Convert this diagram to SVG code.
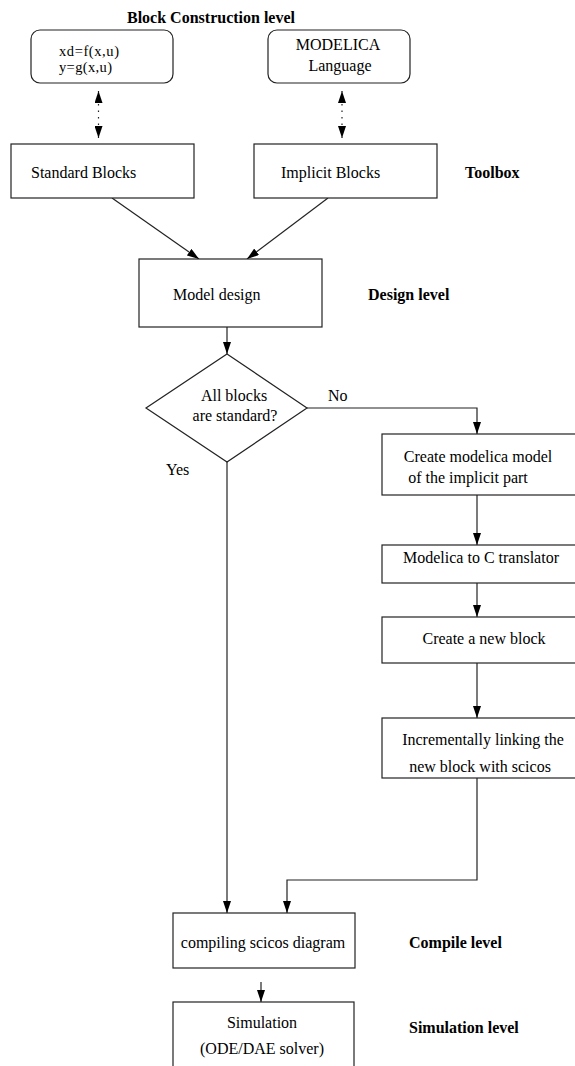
<svg xmlns="http://www.w3.org/2000/svg" width="575" height="1066" viewBox="0 0 575 1066">
<defs>
<marker id="ah" markerUnits="userSpaceOnUse" markerWidth="12" markerHeight="8" viewBox="0 0 12 8" refX="12" refY="4" orient="auto-start-reverse">
<path d="M0,0 L12,4 L0,8 Z" fill="#000"/>
</marker>
</defs>
<style>
text{font-family:"Liberation Serif","Times New Roman",serif;font-size:16px;fill:#000}
.b{font-weight:bold}
.m{text-anchor:middle}
.s{font-size:14.5px}
.box{fill:#fff;stroke:#222;stroke-width:1.2}
.c{fill:none;stroke:#222;stroke-width:1.2}
.d{fill:none;stroke:#222;stroke-width:1.2;stroke-dasharray:1.5 5}
</style>
<rect width="575" height="1066" fill="#fff"/>
<text class="b" x="127" y="23">Block Construction level</text>
<text class="b" x="465" y="178">Toolbox</text>
<text class="b" x="368" y="300">Design level</text>
<text class="b" x="409" y="948">Compile level</text>
<text class="b" x="409" y="1033">Simulation level</text>
<g id="connectors">
<line class="d" x1="98.5" y1="91" x2="98.5" y2="138" marker-start="url(#ah)" marker-end="url(#ah)"/>
<line class="d" x1="342" y1="91" x2="342" y2="138" marker-start="url(#ah)" marker-end="url(#ah)"/>
<line class="c" x1="112" y1="198" x2="199" y2="259" marker-end="url(#ah)"/>
<line class="c" x1="328" y1="198" x2="247" y2="259" marker-end="url(#ah)"/>
<line class="c" x1="227" y1="327" x2="227" y2="354" marker-end="url(#ah)"/>
<polyline class="c" points="307,408 477,408 477,434" marker-end="url(#ah)"/>
<line class="c" x1="477" y1="495" x2="477" y2="545" marker-end="url(#ah)"/>
<line class="c" x1="477" y1="583" x2="477" y2="617" marker-end="url(#ah)"/>
<line class="c" x1="477" y1="663" x2="477" y2="718" marker-end="url(#ah)"/>
<polyline class="c" points="477,778 477,880 287,880 287,913" marker-end="url(#ah)"/>
<line class="c" x1="227" y1="462" x2="227" y2="913" marker-end="url(#ah)"/>
<line class="c" x1="261" y1="982" x2="261" y2="1002" marker-end="url(#ah)"/>
</g>
<g id="eq">
<rect class="box" x="31" y="30" width="142" height="53" rx="9"/>
<text class="s" x="59" y="56" textLength="60">xd=f(x,u)</text>
<text class="s" x="59" y="72" textLength="53">y=g(x,u)</text>
</g>
<g id="modelica">
<rect class="box" x="268" y="30" width="142" height="53" rx="9"/>
<text class="m" x="338" y="50">MODELICA</text>
<text class="m" x="340" y="71">Language</text>
</g>
<g id="standard">
<rect class="box" x="11" y="144" width="183" height="54"/>
<text x="31" y="178">Standard Blocks</text>
</g>
<g id="implicit">
<rect class="box" x="254" y="144" width="183" height="54"/>
<text x="281" y="178">Implicit Blocks</text>
</g>
<g id="design">
<rect class="box" x="139" y="259" width="183" height="68"/>
<text x="173" y="300">Model design</text>
</g>
<g id="decision">
<polygon class="box" points="227,354 307,408 227,462 146,408"/>
<text class="m" x="234" y="401">All blocks</text>
<text class="m" x="235" y="421">are standard?</text>
<text x="328" y="401">No</text>
<text x="166" y="475">Yes</text>
</g>
<g id="create-model">
<rect class="box" x="382" y="434" width="200" height="61"/>
<text class="m" x="478" y="462">Create modelica model</text>
<text class="m" x="468" y="483">of the implicit part</text>
</g>
<g id="translator">
<rect class="box" x="382" y="545" width="200" height="38"/>
<text class="m" x="481" y="563">Modelica to C translator</text>
</g>
<g id="new-block">
<rect class="box" x="382" y="617" width="200" height="46"/>
<text class="m" x="484" y="644">Create a new block</text>
</g>
<g id="linking">
<rect class="box" x="382" y="718" width="200" height="60"/>
<text class="m" x="483" y="745">Incrementally linking the</text>
<text class="m" x="480" y="772">new block with scicos</text>
</g>
<g id="compile">
<rect class="box" x="173" y="913" width="182" height="55"/>
<text class="m" x="263" y="948">compiling scicos diagram</text>
</g>
<g id="simulation">
<rect class="box" x="173" y="1002" width="181" height="80"/>
<text class="m" x="262" y="1028">Simulation</text>
<text class="m" x="262" y="1054">(ODE/DAE solver)</text>
</g>
</svg>
